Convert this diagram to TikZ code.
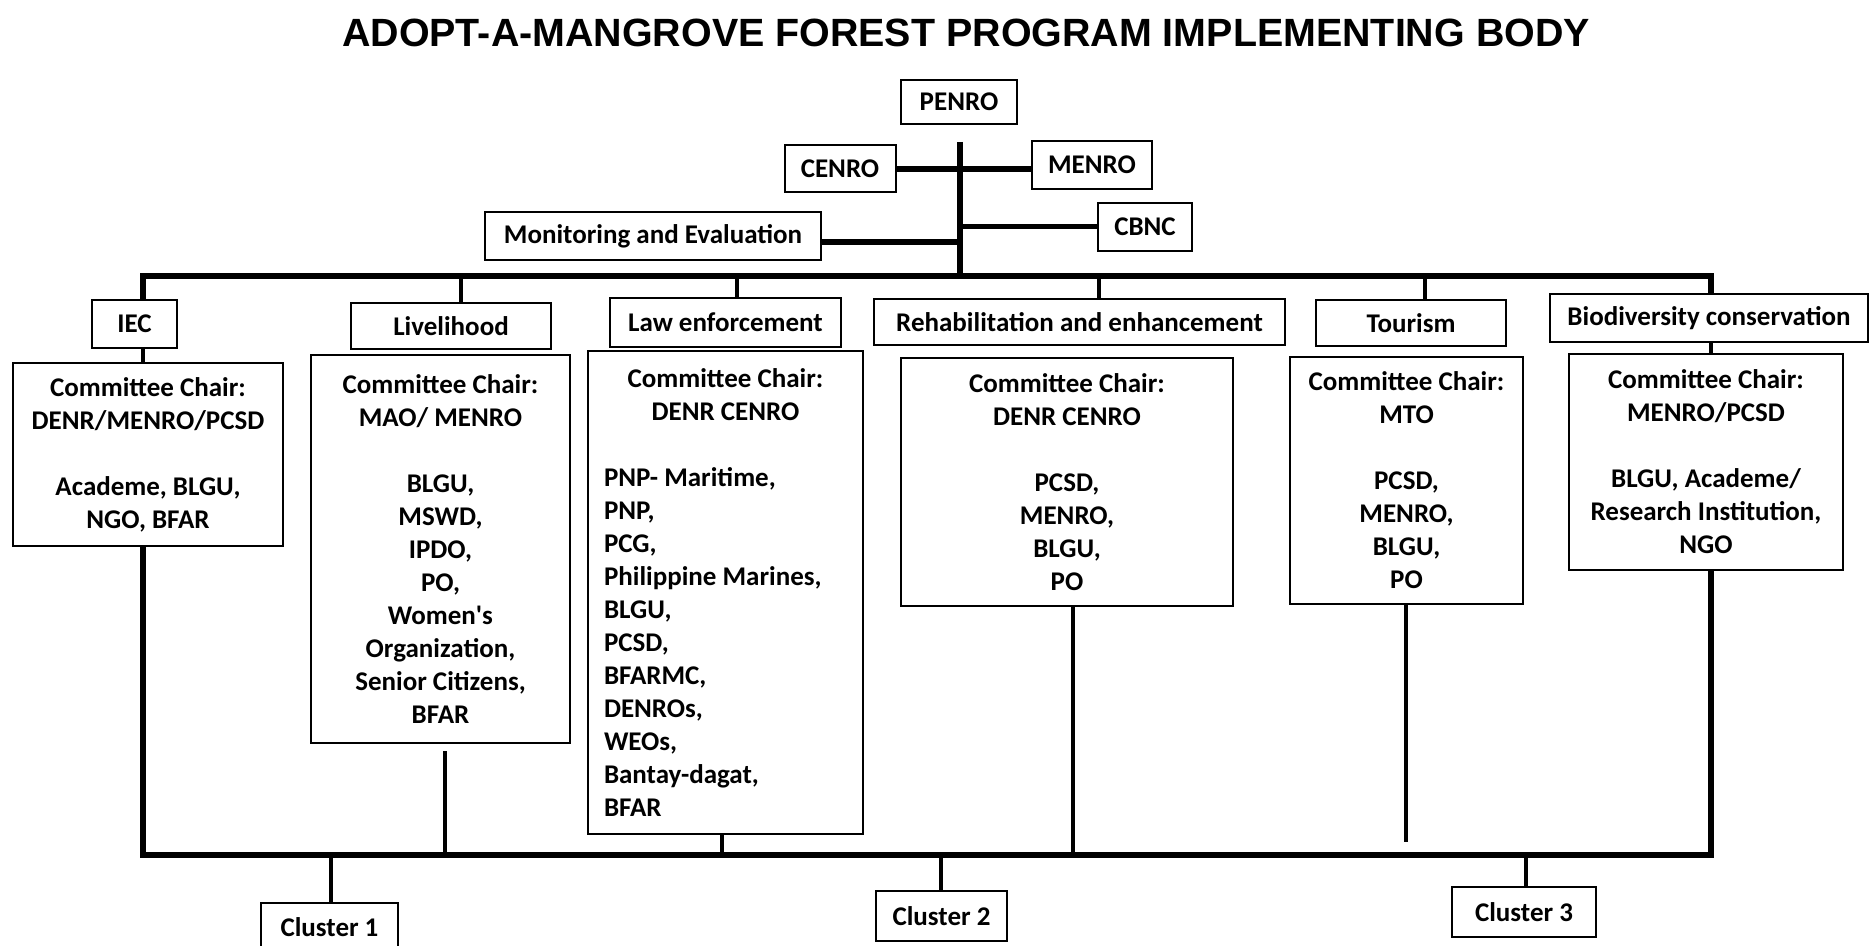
\documentclass[tikz,border=0pt]{standalone}
\usepackage{fontspec}
\setmainfont{Carlito}
\newfontfamily\titlefont{Liberation Sans}
\usepackage{tikz}

\begin{document}
\begin{tikzpicture}[x=0.5pt,y=-0.5pt,
        frame/.style={draw,line width=1pt,inner sep=2pt,font=\bfseries\fontsize{13.5}{16.5}\selectfont},
        box/.style={frame,align=center},
        bar/.style={line width=2.8pt},
        stub/.style={line width=2.2pt}]
        \useasboundingbox (0,0) rectangle (1874,946);
        \clip (0,0) rectangle (1874,946);

        % Titulo
        \node[anchor=base,font=\titlefont\bfseries\fontsize{19.7}{22}\selectfont] (title) at (966,47)
            {ADOPT-A-MANGROVE FOREST PROGRAM IMPLEMENTING BODY};

        % Parte superior
        \node[box,minimum width=58pt,minimum height=22pt] (penro) at (959,102) {PENRO};
        \node[box,minimum width=55.5pt,minimum height=23.5pt] (cenro) at (840,169) {CENRO};
        \node[box,minimum width=60pt,minimum height=24pt] (menro) at (1092,165) {MENRO};
        \node[box,minimum width=168pt,minimum height=24pt] (mande) at (653,236) {Monitoring and Evaluation};
        \node[box,minimum width=47pt,minimum height=24pt] (cbnc) at (1145,227) {CBNC};

        \coordinate (ttop) at (960,142);
        \coordinate (tbot) at (960,276);
        \draw[line width=3pt] (ttop) -- (tbot);
        \draw[line width=3.2pt] (cenro.east) -- (cenro.east -| menro.west);
        \draw[line width=2.5pt] (cbnc.west -| ttop) -- (cbnc.west);
        \coordinate (me) at ([yshift=-3pt]mande.east);
        \draw[line width=3.2pt] (me) -- (me -| ttop);

        % Comites
        \node[box,minimum width=42.5pt,minimum height=24pt] (iec) at (134.5,324) {IEC};
        \node[box,minimum width=100pt,minimum height=23pt] (liv) at (451,326) {Livelihood};
        \node[box,minimum width=115.5pt,minimum height=24.5pt] (law) at (725.5,322.5) {Law enforcement};
        \node[box,minimum width=205.5pt,minimum height=23pt] (reh) at (1079.5,322) {Rehabilitation and enhancement};
        \node[box,minimum width=95pt,minimum height=23pt] (tour) at (1411,323) {Tourism};
        \node[box,minimum width=159pt,minimum height=24pt] (bio) at (1709,318) {Biodiversity conservation};

        \node[box,minimum width=135pt,minimum height=91.5pt] (ciec) at (148,454.5)
            {Committee Chair:\\ DENR/MENRO/PCSD\\[16.5pt] Academe, BLGU,\\ NGO, BFAR};
        \node[box,minimum width=129.5pt,minimum height=194pt] (cliv) at (440.5,549)
            {Committee Chair:\\ MAO/ MENRO\\[16.5pt] BLGU,\\ MSWD,\\ IPDO,\\ PO,\\ Women\textquotesingle s\\ Organization,\\ Senior Citizens,\\ BFAR};
        \node[frame,inner xsep=8pt,minimum width=137.5pt,minimum height=241.5pt] (claw) at (725.5,592.5)
            {\parbox{121.5pt}{\centering Committee Chair:\\ DENR CENRO\par\vspace{16.5pt}\raggedright
             PNP- Maritime,\\ PNP,\\ PCG,\\ Philippine Marines,\\ BLGU,\\ PCSD,\\ BFARMC,\\ DENROs,\\ WEOs,\\ Bantay-dagat,\\ BFAR}};
        \node[box,minimum width=166pt,minimum height=124pt] (creh) at (1067,482)
            {Committee Chair:\\ DENR CENRO\\[16.5pt] PCSD,\\ MENRO,\\ BLGU,\\ PO};
        \node[box,minimum width=116.5pt,minimum height=123.5pt] (ctour) at (1406.5,480.5)
            {Committee Chair:\\ MTO\\[16.5pt] PCSD,\\ MENRO,\\ BLGU,\\ PO};
        \node[box,minimum width=137pt,minimum height=108pt] (cbio) at (1706,462)
            {Committee Chair:\\ MENRO/PCSD\\[16.5pt] BLGU, Academe/\\ Research Institution,\\ NGO};

        % Barra de arriba
        \coordinate (sl) at (143,276);
        \coordinate (sr) at (1711,276);
        \draw[bar] (iec.north -| sl) -- (sl) -- (sr) -- (bio.north -| sr);
        \foreach \n/\x in {liv/461,law/737,reh/1099,tour/1425} {
            \coordinate (s\n) at (\x,276);
            \draw[stub] (s\n) -- (s\n |- \n.north);
        }
        \draw[stub] (iec.south -| sl) -- (ciec.north -| sl);
        \draw[stub] (bio.south -| sr) -- (cbio.north -| sr);

        % Barra de abajo
        \coordinate (bl) at (143,855);
        \coordinate (br) at (1711,855);
        \draw[bar] (ciec.south -| bl) -- (bl) -- (br) -- (cbio.south -| br);
        \coordinate (lv) at (445,751);
        \draw[stub] (lv) -- (lv |- bl);
        \foreach \c/\x/\e in {claw/722/855,creh/1073/855,ctour/1406/842}
            \draw[stub] (\c.south -| \x,0) -- (\x,\e);

        % Clusters
        \node[box,minimum width=68.5pt,minimum height=24pt] (cl1) at (329.5,927) {Cluster 1};
        \node[box,minimum width=65.5pt,minimum height=25pt] (cl2) at (941.5,916) {Cluster 2};
        \node[box,minimum width=72pt,minimum height=25pt] (cl3) at (1524,912) {Cluster 3};
        \foreach \c/\x in {cl1/331,cl2/941,cl3/1526}
            \draw[stub] (\x,855) -- (\c.north -| \x,0);
\end{tikzpicture}
\end{document}
